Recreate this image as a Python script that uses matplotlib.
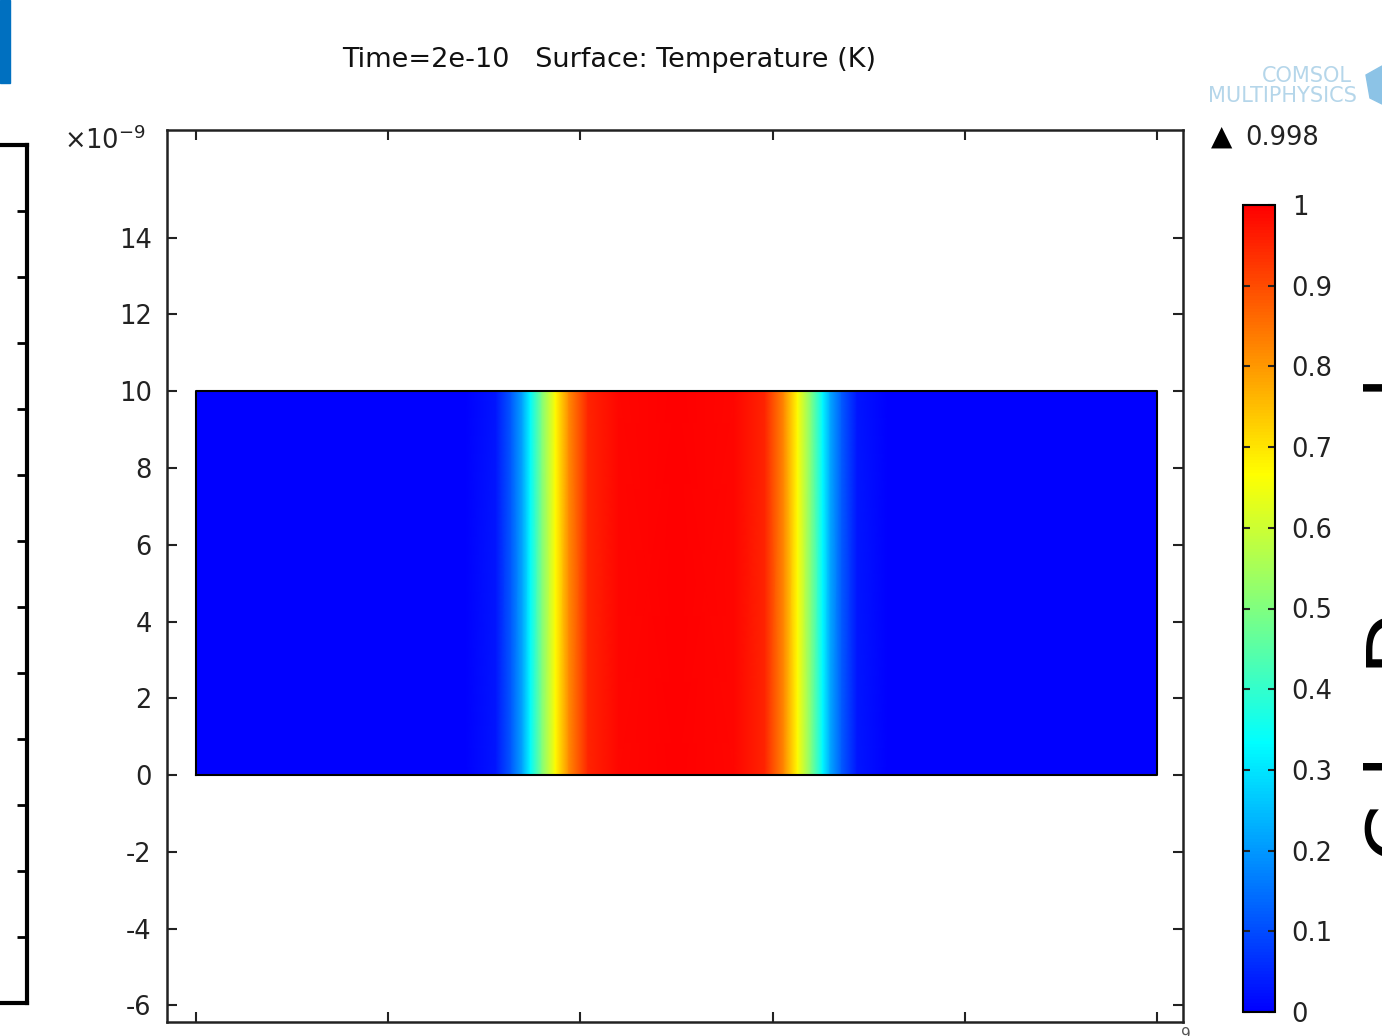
import matplotlib
matplotlib.use("Agg")
import matplotlib.pyplot as plt
from matplotlib.colors import LinearSegmentedColormap
import numpy as np

W, H = 1382, 1036

# temperature profile across the strip (x in nm)
x_nm = [0, 7.0, 7.8, 8.2, 8.5, 8.7, 9.0, 9.35, 9.7, 10.2, 11.0, 12.5,
        14.0, 14.8, 15.3, 15.65, 16.0, 16.3, 16.5, 16.8, 17.2, 18.0, 25]
temp = [0, 0.0, 0.03, 0.12, 0.22, 0.33, 0.5, 0.67, 0.82, 0.95, 0.99, 0.998,
        0.99, 0.95, 0.82, 0.67, 0.5, 0.33, 0.22, 0.12, 0.03, 0.0, 0]
y_nm = [0, 10]
t_max = 0.998

y_ticks = [-6, -4, -2, 0, 2, 4, 6, 8, 10, 12, 14]
x_ticks = [0, 5, 10, 15, 20, 25]
cb_ticks = [0, 0.1, 0.2, 0.3, 0.4, 0.5, 0.6, 0.7, 0.8, 0.9, 1]
title = "Time=2e-10   Surface: Temperature (K)"

rainbow = LinearSegmentedColormap.from_list(
    "comsol_rainbow",
    [(0, "#0000ff"), (1 / 3, "#00ffff"), (2 / 3, "#ffff00"), (1, "#ff0000")])


def fx(px):
    return px / W


def fy(py):
    return 1 - py / H


fig = plt.figure(figsize=(W / 100, H / 100), dpi=100)
fig.patch.set_facecolor("white")
plt.rcParams["font.family"] = "DejaVu Sans"
TXT = "#222222"
FS = 18.5

# main axes
ax = fig.add_axes([fx(167), fy(1022), fx(1183) - fx(167), fy(130) - fy(1022)])
X, Y = np.meshgrid(x_nm, y_nm)
Z = np.vstack([temp, temp])
mesh = ax.pcolormesh(X, Y, Z, cmap=rainbow, vmin=0, vmax=1, shading="gouraud")
ax.plot([0, 25, 25, 0, 0], [0, 0, 10, 10, 0], color="black", lw=1.5)
ax.set_xlim(-0.755, 25.68)
ax.set_ylim(-6.43, 16.8)
ax.set_yticks(y_ticks)
ax.set_yticklabels([str(v) for v in y_ticks])
ax.set_xticks(x_ticks)
ax.set_xticklabels([])
ax.tick_params(direction="in", length=7, width=1.5, top=True, right=True,
               labelsize=FS, pad=11, colors=TXT)
for s in ax.spines.values():
    s.set_linewidth(1.8)
    s.set_color(TXT)

fig.text(fx(64), fy(141), r"×10$^{\mathregular{-9}}$", fontsize=FS,
         ha="left", va="center", color=TXT)
fig.text(fx(1181), fy(1027), "9", fontsize=11, ha="left", va="top",
         color="#555555")

fig.text(fx(609), fy(60), title, fontsize=19.5, ha="center", va="center",
         color="#111111")

# colorbar
cax = fig.add_axes([fx(1243), fy(1012), fx(1275) - fx(1243), fy(205) - fy(1012)])
cb = fig.colorbar(mesh, cax=cax, ticks=cb_ticks)
cb.ax.set_yticklabels(["%g" % t for t in cb_ticks])
cb.ax.tick_params(direction="in", length=5, width=1.5, left=True, right=True,
                  labelsize=FS, pad=12, colors=TXT)
cb.outline.set_linewidth(1.5)

# max marker
fig.text(fx(1211), fy(137), "▲", fontsize=20, ha="left", va="center", color="black")
fig.text(fx(1245), fy(138), "%g" % t_max, fontsize=FS, ha="left",
         va="center", color=TXT)

# COMSOL logo
logo = "#b5d6ea"
fig.text(fx(1352), fy(76), "COMSOL", fontsize=15, ha="right", va="center",
         color=logo)
fig.text(fx(1357), fy(96), "MULTIPHYSICS", fontsize=15, ha="right",
         va="center", color=logo)
fig.patches.append(plt.Polygon(
    [(fx(1366), fy(75)), (fx(1382), fy(66)), (fx(1382), fy(104)), (fx(1370), fy(98))],
    transform=fig.transFigure, color="#8cc3e6"))

# screenshot leftovers: blue bar, neighbouring panel, cut off label
fig.patches.append(plt.Rectangle((0, fy(83)), fx(10), fy(0) - fy(83),
                                 transform=fig.transFigure, color="#0070c0"))
side = fig.add_axes([-0.3, fy(1003), 0.3 + fx(27), fy(145) - fy(1003)])
side.set_xlim(0, 1)
side.set_ylim(0, 13)
side.set_yticks(range(1, 13))
side.set_xticks([])
side.yaxis.tick_right()
side.tick_params(direction="in", length=7, width=2, labelright=False)
side.spines["left"].set_visible(False)
for s in ("right", "top", "bottom"):
    side.spines[s].set_linewidth(3)

fig.text(fx(1364), fy(862), "C l   D        l", fontsize=60, rotation=90,
         ha="left", va="bottom", color="black")

fig.savefig("out.png", dpi=100)
